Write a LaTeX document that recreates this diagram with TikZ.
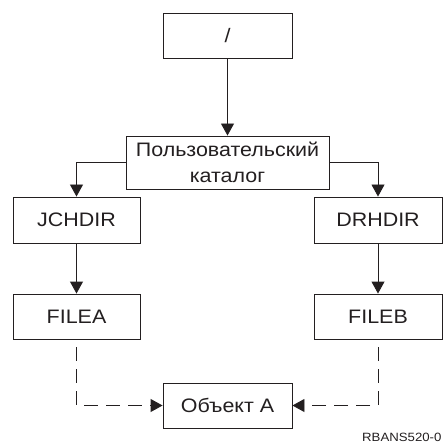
\documentclass[tikz,border=0pt]{standalone}
\usepackage{fontspec}
\setmainfont[FakeStretch=1.1]{Liberation Sans}
\usetikzlibrary{arrows.meta}
\definecolor{ink}{RGB}{35,31,32}
\begin{document}
\begin{tikzpicture}[x=1pt,y=-1pt,
  box/.style={draw=ink,text=ink,line width=0.9pt,inner sep=0pt,align=center,
    font=\fontsize{19.5}{26}\selectfont},
  arr/.style={draw=ink,line width=0.9pt,-{Triangle[width=13pt,length=12pt]}},
  dsh/.style={dash pattern=on 14pt off 8pt}]
\useasboundingbox (0,0) rectangle (443,443);
\node[box,minimum width=129pt,minimum height=45pt] (root) at (227.5,35.5) {/};
\node[box,minimum width=203pt,minimum height=53pt] (user) at (227.5,162.5) {Пользовательский\\каталог};
\node[box,minimum width=127pt,minimum height=46pt] (jch) at (76.5,220) {JCHDIR};
\node[box,minimum width=128pt,minimum height=46pt] (drh) at (378,220) {DRHDIR};
\node[box,minimum width=127pt,minimum height=45pt] (filea) at (76.5,316.5) {FILEA};
\node[box,minimum width=128pt,minimum height=45pt] (fileb) at (378,316.5) {FILEB};
\node[box,minimum width=129pt,minimum height=45pt] (obj) at (227.5,405.5) {Объект A};
\node[anchor=base west,inner sep=0pt,text=ink,font=\fontsize{12}{14}\selectfont] (code) at (362,441.5) {RBANS520-0};
\draw[arr] (root) -- (user);
\draw[arr] (user.west) -| (jch.north);
\draw[arr] (user.east) -| (drh.north);
\draw[arr] (jch) -- (filea);
\draw[arr] (drh) -- (fileb);
\draw[arr,dsh] ([yshift=-8pt]filea.south) |- (obj.west);
\draw[arr,dsh] ([yshift=-8pt]fileb.south) |- (obj.east);
\end{tikzpicture}
\end{document}
